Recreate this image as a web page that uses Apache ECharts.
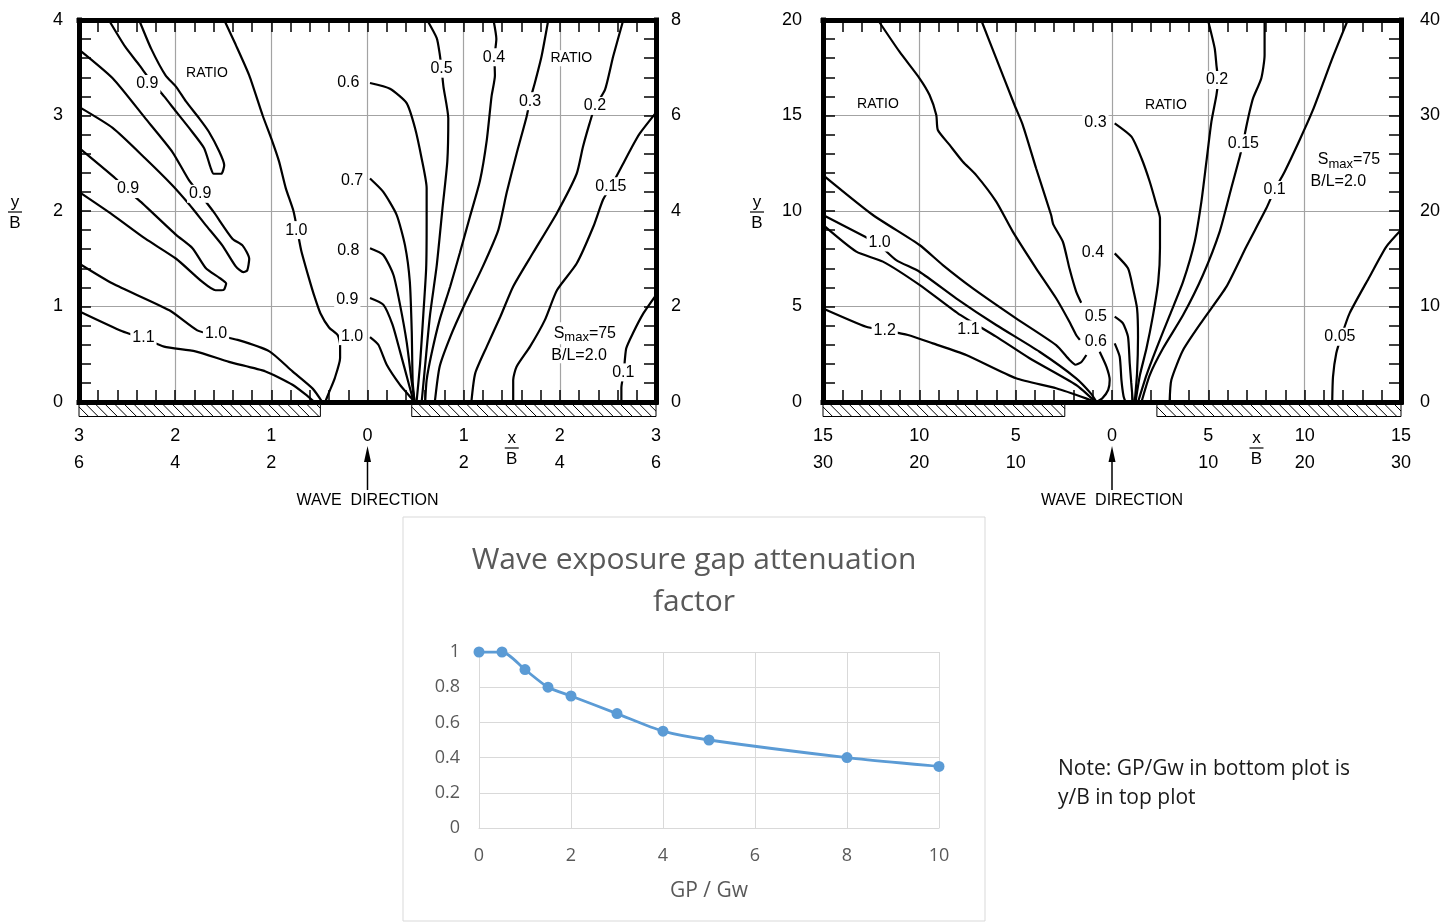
<!DOCTYPE html>
<html><head><meta charset="utf-8">
<script src="https://cdn.jsdelivr.net/npm/echarts@6/dist/echarts.min.js"></script>
<style>html,body{margin:0;padding:0;background:#fff;}#c{width:1455px;height:922px;}</style>
</head><body><div id="c"></div>
<script>
// ---------- LEFT DIAGRAM (x/B from -3 to 3, y/B from 0 to 4) ----------
const L_tongue1_09 = [[-2.69,4.0],[-2.52,3.72],[-2.375,3.53],[-2.25,3.36],[-2.115,3.2],[-1.99,3.04],[-1.855,2.87],[-1.7,2.66],[-1.63,2.45],[-1.6,2.39],[-1.52,2.39],[-1.49,2.48],[-1.54,2.62],[-1.65,2.83],[-1.75,2.97],[-1.89,3.15],[-1.99,3.3],[-2.1,3.42],[-2.25,3.7],[-2.375,4.0]];
const L_tongue2_09 = [[-3.0,3.69],[-2.65,3.39],[-2.31,2.97],[-2.03,2.62],[-1.855,2.32],[-1.73,2.16],[-1.6,1.99],[-1.405,1.71],[-1.3,1.64],[-1.23,1.5],[-1.25,1.38],[-1.29,1.36],[-1.37,1.42],[-1.51,1.64],[-1.68,1.85],[-1.855,2.07],[-2.03,2.27],[-2.31,2.55],[-2.65,2.87],[-3.0,3.09]];
const L_tongue3_09 = [[-3.0,2.66],[-2.62,2.34],[-2.5,2.22],[-2.34,2.08],[-1.99,1.75],[-1.82,1.61],[-1.68,1.4],[-1.54,1.3],[-1.47,1.24],[-1.49,1.18],[-1.52,1.17],[-1.58,1.17],[-1.72,1.26],[-1.99,1.5],[-2.31,1.71],[-2.65,1.96],[-3.0,2.2]];
const L_upper_10 = [[-1.49,4.0],[-1.37,3.74],[-1.23,3.42],[-1.09,3.0],[-0.99,2.73],[-0.92,2.52],[-0.85,2.24],[-0.77,2.0],[-0.73,1.8],[-0.69,1.59],[-0.61,1.3],[-0.55,1.1],[-0.49,0.93],[-0.4,0.78],[-0.31,0.7],[-0.285,0.6],[-0.285,0.46],[-0.34,0.25],[-0.4,0.1],[-0.44,0.0]];
const L_lower_10 = [[-3.0,1.45],[-2.65,1.24],[-2.06,0.96],[-1.77,0.75],[-1.58,0.7],[-1.35,0.65],[-1.02,0.53],[-0.78,0.32],[-0.57,0.14],[-0.47,0.0]];
const L_11 = [[-3.0,0.95],[-2.55,0.74],[-2.34,0.67],[-2.115,0.58],[-1.79,0.53],[-1.44,0.42],[-1.06,0.32],[-0.78,0.18],[-0.62,0.06],[-0.55,0.0]];
const L_c06 = [[0.026,3.34],[0.234,3.28],[0.407,3.13],[0.494,2.87],[0.563,2.55],[0.615,2.24],[0.615,1.89],[0.61,1.4],[0.58,0.91],[0.546,0.39],[0.51,0.0]];
const L_c07 = [[0.026,2.34],[0.164,2.2],[0.303,1.96],[0.39,1.64],[0.44,1.26],[0.46,0.74],[0.47,0.21],[0.49,0.0]];
const L_c08 = [[0.026,1.61],[0.164,1.54],[0.27,1.33],[0.338,1.02],[0.407,0.63],[0.46,0.21],[0.49,0.0]];
const L_c09 = [[0.026,1.09],[0.164,1.02],[0.26,0.81],[0.338,0.53],[0.424,0.21],[0.48,0.0]];
const L_c10 = [[0.026,0.68],[0.113,0.6],[0.2,0.39],[0.338,0.18],[0.46,0.035],[0.48,0.0]];
const L_c05 = [[0.62,4.0],[0.72,3.81],[0.75,3.65],[0.77,3.49],[0.79,3.3],[0.84,2.97],[0.83,2.52],[0.78,2.03],[0.72,1.43],[0.65,0.91],[0.6,0.39],[0.563,0.0]];
const L_c04 = [[1.31,4.0],[1.34,3.8],[1.32,3.6],[1.325,3.42],[1.29,3.2],[1.24,2.74],[1.17,2.32],[1.065,1.94],[0.96,1.56],[0.86,1.21],[0.75,0.86],[0.667,0.51],[0.615,0.23],[0.6,0.0]];
const L_c03 = [[1.88,4.0],[1.81,3.62],[1.74,3.34],[1.69,3.16],[1.655,2.99],[1.55,2.6],[1.447,2.19],[1.36,1.8],[1.2,1.42],[1.0,1.0],[0.86,0.68],[0.75,0.37],[0.7,0.0]];
const L_c02 = [[2.66,4.0],[2.555,3.62],[2.47,3.27],[2.365,3.09],[2.31,2.92],[2.24,2.67],[2.175,2.39],[1.97,1.98],[1.72,1.56],[1.515,1.21],[1.38,0.89],[1.24,0.58],[1.12,0.3],[1.08,0.0]];
const L_c015 = [[3.0,3.03],[2.83,2.81],[2.75,2.67],[2.64,2.46],[2.54,2.27],[2.45,2.12],[2.35,1.84],[2.175,1.45],[1.97,1.17],[1.845,0.86],[1.69,0.58],[1.55,0.37],[1.515,0.23],[1.515,0.0]];
const L_c01 = [[3.0,1.12],[2.87,0.93],[2.76,0.72],[2.69,0.56],[2.665,0.31],[2.64,0.15],[2.64,0.0]];
const L_labels = [['RATIO',-1.67,3.44],['0.9',-2.29,3.33],['0.9',-2.49,2.23],['0.9',-1.74,2.18],['1.0',-0.74,1.80],['1.1',-2.33,0.67],['1.0',-1.575,0.72],['0.6',-0.2,3.34],['0.7',-0.16,2.32],['0.8',-0.2,1.59],['0.9',-0.21,1.07],['1.0',-0.16,0.69],['0.5',0.77,3.49],['0.4',1.315,3.61],['0.3',1.69,3.15],['RATIO',2.12,3.6],['0.2',2.365,3.10],['0.15',2.53,2.26],['0.1',2.66,0.31]];
const L_param = [[2.26,0.72],[2.2,0.49]];
const L_breakwaters = [[-3,-0.49],[0.46,3]];
const L_xRow1 = ['3','2','1','0','1','2','3'];
const L_xRow2 = ['6','4','2','','2','4','6'];

// ---------- RIGHT DIAGRAM (x/B from -15 to 15, y/B from 0 to 20) ----------
const R_06a = [[-12.15,20],[-11.03,18.34],[-9.99,16.95],[-9.47,16.07],[-9.12,15.03],[-9.04,14.24],[-8.43,13.46],[-7.74,12.58],[-7.05,11.88],[-6.01,10.49],[-5.15,8.92],[-3.94,7.0],[-2.9,5.43],[-2.21,4.2],[-1.86,3.51],[-1.67,3.25]];
const R_05a = [[-6.79,20],[-6.01,17.99],[-5.06,15.55],[-4.63,14.5],[-3.94,12.24],[-3.16,9.79],[-3.05,9.3],[-2.55,8.39],[-2.21,7.0],[-1.86,5.78],[-1.6,5.2]];
const R_hook = [[-15,11.88],[-12.41,9.79],[-9.99,8.22],[-8.78,7.17],[-7.22,5.95],[-4.98,4.38],[-2.9,2.98],[-2.2,2.2],[-1.9,1.95],[-1.6,2.08],[-1.33,2.46]];
const R_06b = [[-0.64,2.63],[-0.29,1.85],[-0.12,1.15],[-0.2,0.63],[-0.5,0.2],[-0.8,0.0]];
const R_10 = [[-15,9.79],[-12.84,8.66],[-12.06,8.2],[-11.2,7.43],[-9.99,6.82],[-8.09,5.43],[-6.01,4.03],[-3.76,2.63],[-1.86,1.24],[-1.1,0.45],[-0.8,0.0]];
const R_11 = [[-15,9.27],[-13.27,7.87],[-11.89,7.35],[-9.99,6.13],[-8.0,4.64],[-6.01,3.42],[-4.28,2.29],[-1.86,0.89],[-0.85,0.0]];
const R_12 = [[-15,4.9],[-12.76,3.94],[-11.9,3.77],[-10.59,3.51],[-9.3,3.07],[-7.57,2.46],[-4.98,1.24],[-2.9,0.72],[-1.35,0.19],[-0.9,0.0]];
const R_05b = [[0.14,4.47],[0.57,4.12],[0.83,3.42],[0.92,2.03],[1.0,1.0],[1.06,0.28],[1.09,0.0]];
const R_06c = [[0.14,3.07],[0.4,2.37],[0.49,1.15],[0.6,0.3],[0.7,0.0]];
const R_04 = [[0.14,7.78],[0.83,7.0],[1.09,5.95],[1.3,4.9],[1.35,3.4],[1.3,1.5],[1.18,0.0]];
const R_03 = [[0.14,14.59],[1.01,13.89],[1.53,12.76],[1.96,11.53],[2.31,10.31],[2.49,9.62],[2.49,8.05],[2.4,6.3],[2.13,4.55],[1.79,2.81],[1.45,1.41],[1.22,0.0]];
const R_02 = [[4.98,20],[5.33,18.52],[5.42,17.64],[5.5,16.86],[5.42,16.07],[5.16,14.68],[4.9,12.58],[4.64,10.49],[4.29,8.39],[3.69,6.3],[3.0,4.55],[2.31,2.81],[1.79,1.41],[1.35,0.0]];
const R_015 = [[7.92,20],[7.92,18.17],[7.75,16.95],[7.32,15.9],[7.14,15.2],[6.97,14.41],[6.8,13.54],[6.63,12.84],[6.19,11.19],[5.59,8.92],[4.72,6.65],[3.69,4.55],[2.65,2.81],[1.96,1.41],[1.53,0.0]];
const R_01 = [[12.24,20],[11.47,18.08],[10.43,15.29],[9.74,13.72],[8.96,12.06],[8.44,11.1],[8.01,10.14],[6.97,8.13],[5.94,6.04],[4.72,4.29],[3.69,2.72],[3.08,1.15],[2.99,0.0]];
const R_005 = [[15,9.0],[14.24,8.13],[13.37,6.56],[12.33,4.64],[11.9,3.42],[11.64,2.55],[11.47,1.32],[11.43,0.0]];
const R_labels = [['RATIO',-12.15,15.6],['1.0',-12.06,8.35],['1.1',-7.45,3.8],['1.2',-11.8,3.72],['0.3',-0.86,14.62],['0.4',-0.99,7.82],['0.5',-0.84,4.48],['0.6',-0.84,3.17],['RATIO',2.8,15.55],['0.2',5.45,16.86],['0.15',6.82,13.55],['0.1',8.44,11.1],['0.05',11.83,3.42]];
const R_param = [[12.3,12.7],[11.75,11.55]];
const R_breakwaters = [[-15,-2.45],[2.33,15]];
const R_xRow1 = ['15','10','5','0','5','10','15'];
const R_xRow2 = ['30','20','10','','10','20','30'];

const paramTexts = ['{s|S}{sub|max}{s|=75}', 'B/L=2.0'];

// ---------- BOTTOM CHART ----------
const gapRatio = [0, 0.5, 1, 1.5, 2, 3, 4, 5, 8, 10];
const attenuation = [1, 1, 0.9, 0.8, 0.75, 0.65, 0.55, 0.5, 0.4, 0.35];

const leftLines = [L_tongue1_09, L_tongue2_09, L_tongue3_09, L_upper_10, L_lower_10, L_11, L_c06, L_c07, L_c08, L_c09, L_c10, L_c05, L_c04, L_c03, L_c02, L_c015, L_c01];
const rightLines = [R_06a, R_05a, R_hook, R_06b, R_10, R_11, R_12, R_05b, R_06c, R_04, R_03, R_02, R_015, R_01, R_005];

const CF = '"Liberation Sans", Arial, sans-serif';
const OF = '"Open Sans", "Noto Sans", sans-serif';
const gridLine = {color: '#a3a3a3', width: 1.2};
const frameLine = {color: '#000', width: 5, cap: 'square'};
const tickStyle = {color: '#000', width: 1.5};

function frameX(gi, min, max, iv, pos, row1, row2) {
  return {
    type: 'value', gridIndex: gi, position: pos, min: min, max: max, interval: iv,
    axisLine: {show: true, onZero: false, lineStyle: frameLine},
    axisTick: {show: true, inside: true, length: 12, lineStyle: tickStyle},
    minorTick: {show: true, splitNumber: 5, length: 12, lineStyle: tickStyle},
    axisLabel: row1 ? {show: true, margin: 21, fontSize: 18, lineHeight: 27, color: '#000', fontFamily: CF,
      formatter: function (v, i) { return row2[i] ? row1[i] + '\n' + row2[i] : row1[i]; }} : {show: false},
    splitLine: {show: pos === 'bottom', lineStyle: gridLine},
    minorSplitLine: {show: false}
  };
}
function frameY(gi, min, max, iv, pos, margin, showSplit) {
  return {
    type: 'value', gridIndex: gi, position: pos, min: min, max: max, interval: iv,
    axisLine: {show: true, onZero: false, lineStyle: frameLine},
    axisTick: {show: true, inside: true, length: 12, lineStyle: tickStyle},
    minorTick: {show: true, splitNumber: 5, length: 12, lineStyle: tickStyle},
    axisLabel: {show: true, margin: margin, fontSize: 18, color: '#000', fontFamily: CF},
    splitLine: {show: showSplit, lineStyle: gridLine},
    minorSplitLine: {show: false}
  };
}

function contour(data, ax) {
  return {type: 'line', xAxisIndex: ax, yAxisIndex: ax, data: data, showSymbol: false, symbol: 'none',
    smooth: 0.2, clip: false, silent: true, z: 3, lineStyle: {color: '#000', width: 2.2}};
}
// contour value labels, drawn as text with white backing so the lines and grid break around them
function labelSeries(list, ax) {
  return {type: 'custom', xAxisIndex: ax, yAxisIndex: ax, clip: false, silent: true, z: 6,
    data: list.map(function (d) { return [d[1], d[2]]; }), encode: {x: 0, y: 1},
    renderItem: function (params, api) {
      const p = api.coord([api.value(0), api.value(1)]);
      const t = list[params.dataIndex][0];
      return {type: 'text', z2: 10, style: {text: t, x: p[0], y: p[1], fill: '#000', fontSize: t === 'RATIO' ? 14 : 16,
        fontFamily: CF, align: 'center', verticalAlign: 'middle', backgroundColor: '#fff', padding: [1, 2]}};
    }};
}
function paramSeries(list, ax) {
  return {type: 'custom', xAxisIndex: ax, yAxisIndex: ax, clip: false, silent: true, z: 6,
    data: list.map(function (d) { return [d[0], d[1]]; }), encode: {x: 0, y: 1},
    renderItem: function (params, api) {
      const p = api.coord([api.value(0), api.value(1)]);
      return {type: 'text', style: {text: paramTexts[params.dataIndex], x: p[0], y: p[1], fill: '#000', fontSize: 16,
        fontFamily: CF, align: 'center', verticalAlign: 'middle', backgroundColor: '#fff', padding: [0, 1],
        rich: {s: {fontSize: 16, fontFamily: CF, fill: '#000'}, sub: {fontSize: 13, fontFamily: CF, fill: '#000', padding: [9, 0, 0, 0]}}}};
    }};
}
function hatchRender(params, api) {
  const a = api.coord([api.value(0), 0]);
  const b = api.coord([api.value(1), 0]);
  const top = a[1] + 2.5, h = 12, x0 = a[0], x1 = b[0];
  const ch = [{type: 'rect', shape: {x: x0, y: top, width: x1 - x0, height: h}, style: {fill: '#fff', stroke: '#000', lineWidth: 1}}];
  for (let xs = x0 - h; xs < x1; xs += 9.6) {
    let sx = xs, sy = top, ex = xs + h, ey = top + h;
    if (sx < x0) { sy = top + (x0 - xs); sx = x0; }
    if (ex > x1) { ey = top + (x1 - xs); ex = x1; }
    if (ex > sx) ch.push({type: 'line', shape: {x1: sx, y1: sy, x2: ex, y2: ey}, style: {stroke: '#000', lineWidth: 1}});
  }
  return {type: 'group', children: ch};
}
function hatchSeries(list, ax) {
  return {type: 'custom', xAxisIndex: ax, yAxisIndex: ax, clip: false, silent: true, z: 4,
    data: list.map(function (d) { return [d[0], d[1], 0]; }), encode: {x: [0, 1], y: 2}, renderItem: hatchRender};
}
function waveRender(params, api) {
  const p = api.coord([api.value(0), 0]);
  return {type: 'group', children: [
    {type: 'line', shape: {x1: p[0], y1: p[1] + 88, x2: p[0], y2: p[1] + 54}, style: {stroke: '#000', lineWidth: 1.5}},
    {type: 'polygon', shape: {points: [[p[0], p[1] + 44], [p[0] - 3.5, p[1] + 60], [p[0] + 3.5, p[1] + 60]]}, style: {fill: '#000'}},
    {type: 'text', style: {text: 'WAVE  DIRECTION', x: p[0], y: p[1] + 99, fill: '#000', fontSize: 16, fontFamily: CF, align: 'center', verticalAlign: 'middle'}}
  ]};
}
function waveSeries(ax) {
  return {type: 'custom', xAxisIndex: ax, yAxisIndex: ax, clip: false, silent: true, z: 4,
    data: [[0, 0]], encode: {x: 0, y: 1}, renderItem: waveRender};
}
function fracSeries(ax, topT, botT, pt) {
  return {type: 'custom', xAxisIndex: ax, yAxisIndex: ax, clip: false, silent: true, z: 4,
    data: [pt], encode: {x: 0, y: 1},
    renderItem: function (params, api) {
      const p = api.coord([api.value(0), api.value(1)]);
      const cx = p[0] + api.value(2), cy = p[1] + api.value(3);
      return {type: 'group', children: [
        {type: 'text', style: {text: topT, x: cx, y: cy - 10, fill: '#000', fontSize: 17, fontFamily: CF, align: 'center', verticalAlign: 'middle'}},
        {type: 'line', shape: {x1: cx - 7, y1: cy, x2: cx + 7, y2: cy}, style: {stroke: '#000', lineWidth: 1.2}},
        {type: 'text', style: {text: botT, x: cx, y: cy + 11, fill: '#000', fontSize: 17, fontFamily: CF, align: 'center', verticalAlign: 'middle'}}
      ]};
    }};
}

const series = [];
leftLines.forEach(function (d) { series.push(contour(d, 0)); });
rightLines.forEach(function (d) { series.push(contour(d, 2)); });
series.push(labelSeries(L_labels, 0), labelSeries(R_labels, 2));
series.push(paramSeries(L_param, 0), paramSeries(R_param, 2));
series.push(hatchSeries(L_breakwaters, 0), hatchSeries(R_breakwaters, 2));
series.push(waveSeries(0), waveSeries(2));
series.push(fracSeries(0, 'x', 'B', [1.5, 0, 0, 46]), fracSeries(0, 'y', 'B', [-3, 2, -64, 1]));
series.push(fracSeries(2, 'x', 'B', [7.5, 0, 0, 46]), fracSeries(2, 'y', 'B', [-15, 10, -66, 1]));
series.push({
  type: 'line', xAxisIndex: 4, yAxisIndex: 4, smooth: 0.25, symbol: 'circle', symbolSize: 11,
  data: gapRatio.map(function (g, i) { return [g, attenuation[i]]; }),
  lineStyle: {color: '#5b9bd5', width: 2.8}, itemStyle: {color: '#5b9bd5'}
});

const option = {
  animation: false,
  backgroundColor: '#fff',
  grid: [
    {left: 79, top: 20, width: 577, height: 382},
    {left: 823, top: 20, width: 578, height: 382},
    {left: 479, top: 652, width: 460, height: 176}
  ],
  xAxis: [
    frameX(0, -3, 3, 1, 'bottom', L_xRow1, L_xRow2),
    frameX(0, -3, 3, 1, 'top', null, null),
    frameX(1, -15, 15, 5, 'bottom', R_xRow1, R_xRow2),
    frameX(1, -15, 15, 5, 'top', null, null),
    {type: 'value', gridIndex: 2, min: 0, max: 10, interval: 2,
      axisLine: {show: true, onZero: false, lineStyle: {color: '#d9d9d9'}}, axisTick: {show: false},
      axisLabel: {color: '#595959', fontSize: 18, margin: 19, fontFamily: OF},
      splitLine: {show: true, lineStyle: {color: '#d9d9d9'}},
      name: 'GP / Gw', nameLocation: 'middle', nameGap: 53,
      nameTextStyle: {color: '#595959', fontSize: 21, fontFamily: OF}}
  ],
  yAxis: [
    frameY(0, 0, 4, 1, 'left', 16, true),
    frameY(0, 0, 8, 2, 'right', 15, false),
    frameY(1, 0, 20, 5, 'left', 21, true),
    frameY(1, 0, 40, 10, 'right', 19, false),
    {type: 'value', gridIndex: 2, min: 0, max: 1, interval: 0.2,
      axisLine: {show: false}, axisTick: {show: false},
      axisLabel: {color: '#595959', fontSize: 18, margin: 19, fontFamily: OF,
        formatter: function (v) { return (v === 0 || v === 1) ? String(v) : v.toFixed(1); }},
      splitLine: {show: true, lineStyle: {color: '#d9d9d9'}}}
  ],
  graphic: [
    {type: 'rect', shape: {x: 403, y: 517, width: 582, height: 404}, style: {fill: 'none', stroke: '#d9d9d9', lineWidth: 1}, z: -1},
    {type: 'text', x: 694, y: 539, style: {text: 'Wave exposure gap attenuation\nfactor', fill: '#595959', fontSize: 30, lineHeight: 42, fontFamily: OF, align: 'center', verticalAlign: 'top'}},
    {type: 'text', x: 1058, y: 755, style: {text: 'Note: GP/Gw in bottom plot is\ny/B in top plot', fill: '#1a1a1a', fontSize: 21, lineHeight: 29, fontFamily: OF, align: 'left', verticalAlign: 'top'}}
  ],
  series: series
};
const chart = echarts.init(document.getElementById('c'));
chart.setOption(option);
</script></body></html>
